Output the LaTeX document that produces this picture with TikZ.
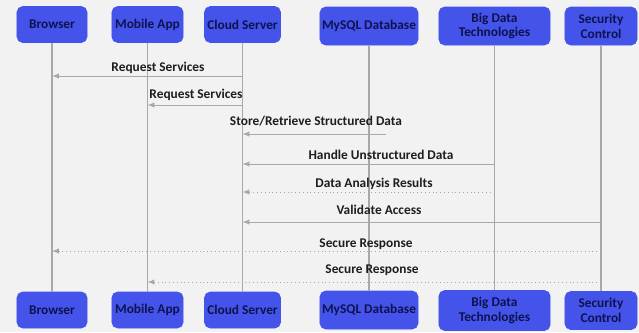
\documentclass[tikz,border=0pt]{standalone}
\usepackage{fontspec}
\setmainfont{Carlito}
\usepackage{tikz}
\usetikzlibrary{positioning}
\usetikzlibrary{arrows}
\definecolor{bg}{RGB}{242, 242, 242}
\definecolor{boxblue}{RGB}{68, 84, 234}
\definecolor{boxtext}{RGB}{14, 18, 78}
\definecolor{lifegray}{RGB}{168, 168, 168}
\definecolor{labeltext}{RGB}{30, 30, 30}

\begin{document}
\begin{tikzpicture}[x=0.025cm, y=-0.025cm]
    \tikzstyle{actor}=[rectangle, rounded corners=4pt, fill=boxblue, draw=boxblue,
    text=boxtext, font=\fontsize{9.5}{10.5}\selectfont\bfseries, align=center,
    inner sep=0pt, minimum height=0.9cm]
    \tikzstyle{life}=[line width=0.3mm, color=lifegray]
    \tikzstyle{msg}=[line width=0.25mm, color=lifegray, arrows={-latex}]
    \tikzstyle{reply}=[line width=0.25mm, color=lifegray, dotted, arrows={-latex}]
    \tikzstyle{lbl}=[text=labeltext, font=\fontsize{9.5}{10.5}\selectfont\bfseries, anchor=mid]

    % Background
    \fill [bg] (0, 0) rectangle (639, 332);

    % Top row of actors
    \node [actor, minimum width=1.75cm] (browserT) at (52, 24.5) {Browser};
    \node [actor, minimum width=1.78cm] (mobileT) at (147.5, 24.5) {Mobile App};
    \node [actor, minimum width=1.9cm] (cloudT) at (242.5, 24.5) {Cloud Server};
    \node [actor, minimum width=2.45cm, minimum height=0.95cm] (mysqlT) at (369, 26) {MySQL Database};
    \node [actor, minimum width=2.78cm, minimum height=0.95cm] (bigdataT) at (494.5, 26) {Big Data\\Technologies};
    \node [actor, minimum width=1.8cm, minimum height=0.95cm] (securityT) at (601, 26) {Security\\Control};

    % Bottom row of actors
    \node [actor, minimum width=1.75cm] (browserB) at (52, 310) {Browser};
    \node [actor, minimum width=1.78cm] (mobileB) at (147.5, 310) {Mobile App};
    \node [actor, minimum width=1.9cm] (cloudB) at (242.5, 310) {Cloud Server};
    \node [actor, minimum width=2.45cm, minimum height=0.95cm] (mysqlB) at (369, 310) {MySQL Database};
    \node [actor, minimum width=2.78cm, minimum height=1.0cm] (bigdataB) at (494.5, 310.5) {Big Data\\Technologies};
    \node [actor, minimum width=1.8cm, minimum height=0.95cm] (securityB) at (601, 310.5) {Security\\Control};

    % Lifelines
    \draw [life] (browserT) -- (browserB);
    \draw [life] (mobileT) -- (mobileB);
    \draw [life] (cloudT) -- (cloudB);
    \draw [life] (mysqlT) -- (mysqlB);
    \draw [life] (bigdataT) -- (bigdataB);
    \draw [life] (securityT) -- (securityB);

    % Message levels
    \coordinate (m1) at (0, 76);
    \coordinate (m2) at (0, 105);
    \coordinate (m3) at (0, 134);
    \coordinate (m4) at (0, 164);
    \coordinate (m5) at (0, 192);
    \coordinate (m6) at (0, 222);
    \coordinate (m7) at (0, 251);
    \coordinate (m8) at (0, 282);

    % Request Services
    \draw [msg] (cloudT |- m1) -- (browserT |- m1);
    \node [lbl] at (158, 68) {Request Services};
    % Request Services
    \draw [msg] (cloudT |- m2) -- (mobileT |- m2);
    \node [lbl] at (196, 95) {Request Services};
    % Store/Retrieve Structured Data
    \draw [msg] ([xshift=0.42cm]mysqlT |- m3) -- (cloudT |- m3);
    \node [lbl] at (316, 122) {Store/Retrieve Structured Data};
    % Handle Unstructured Data
    \draw [msg] (bigdataT |- m4) -- (cloudT |- m4);
    \node [lbl] at (381, 156) {Handle Unstructured Data};
    % Data Analysis Results
    \draw [reply] (bigdataT |- m5) -- (cloudT |- m5);
    \node [lbl] at (374, 184) {Data Analysis Results};
    % Validate Access
    \draw [msg] (securityT |- m6) -- (cloudT |- m6);
    \node [lbl] at (379, 211) {Validate Access};
    % Secure Response
    \draw [reply] (securityT |- m7) -- (browserT |- m7);
    \node [lbl] at (366, 244) {Secure Response};
    % Secure Response
    \draw [reply] (securityT |- m8) -- (mobileT |- m8);
    \node [lbl] at (372, 270) {Secure Response};

\end{tikzpicture}
\end{document}
